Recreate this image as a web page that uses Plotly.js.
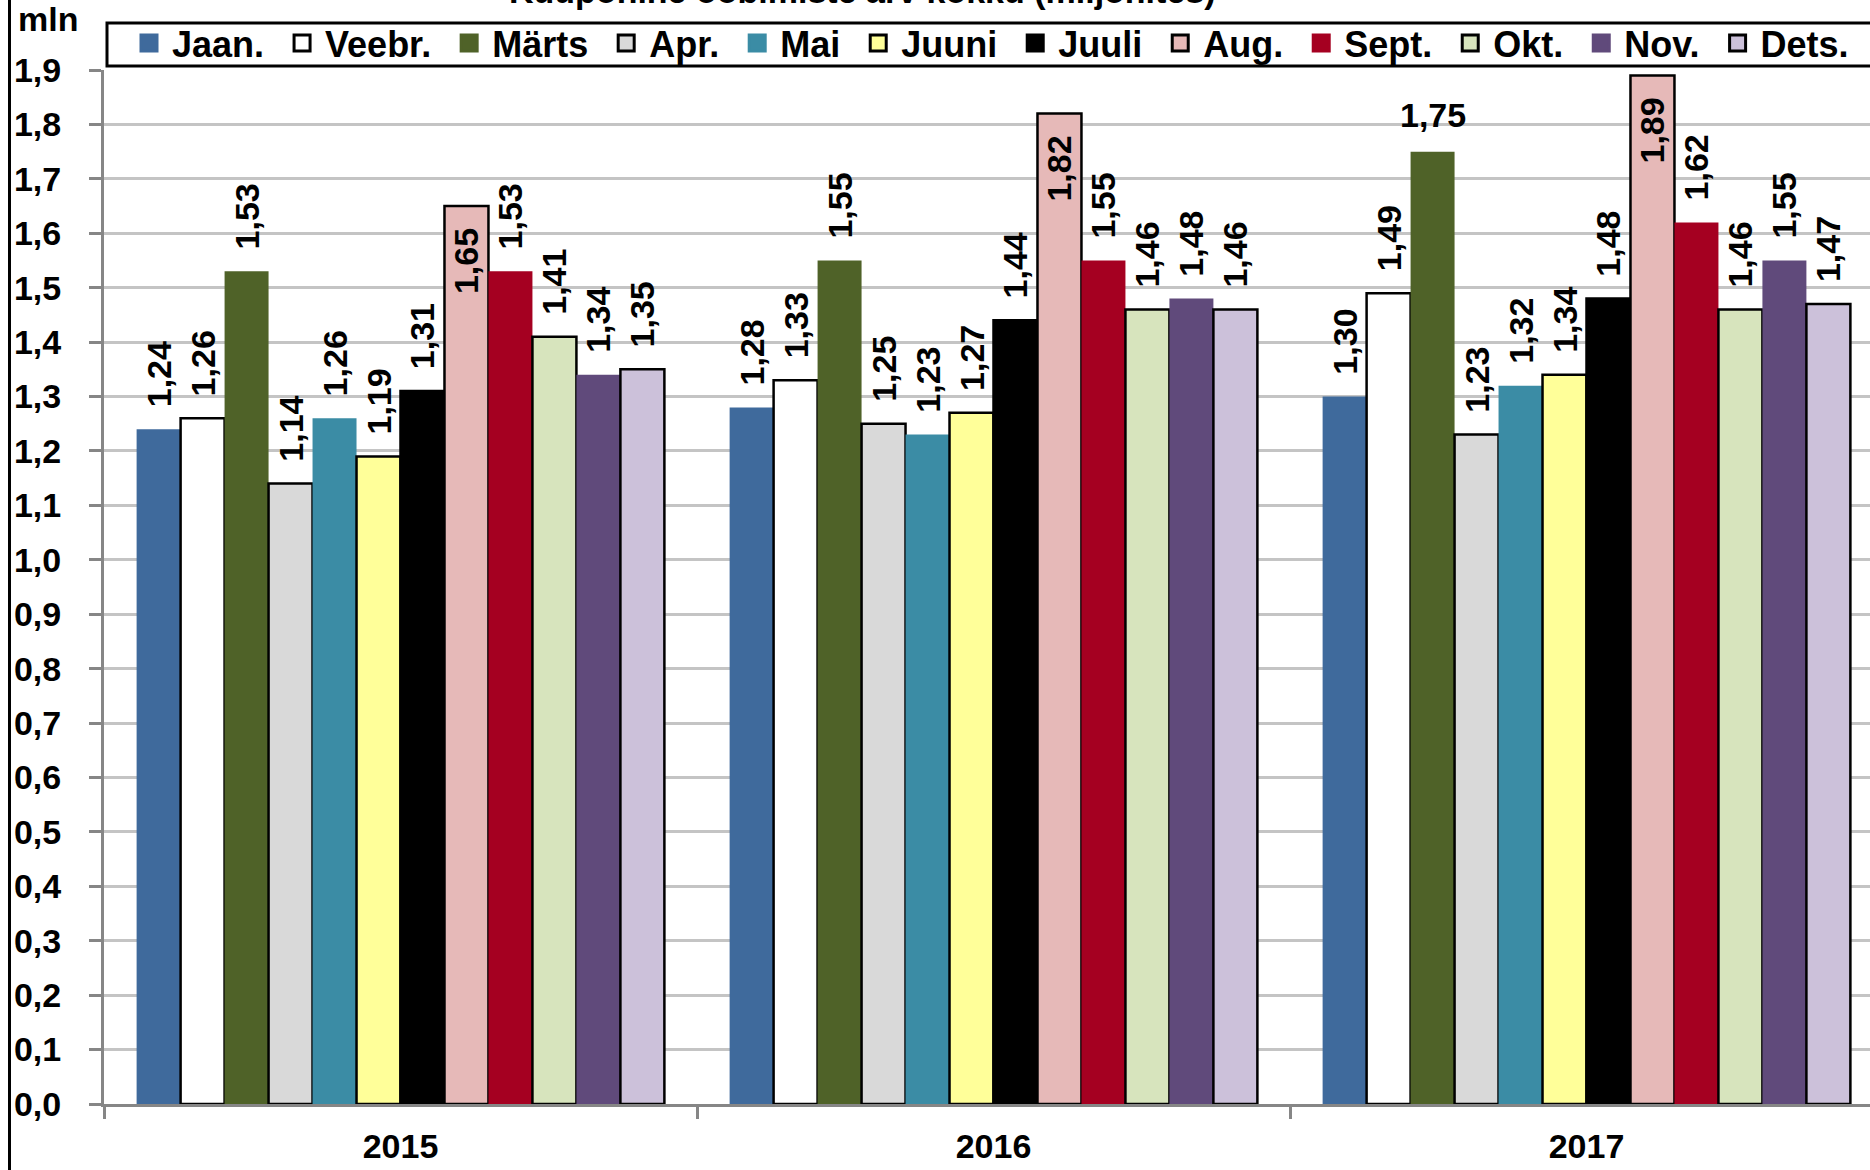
<!DOCTYPE html>
<html>
<head>
<meta charset="utf-8">
<script src="https://cdn.plot.ly/plotly-3.0.1.min.js"></script>
<style>
  body { margin: 0; background: #fff; }
  #chart { width: 1870px; height: 1170px; }
</style>
</head>
<body>
<div id="chart"></div>
<script>
// values, mln
const years = ['2015', '2016', '2017'];
const months = ['Jaan.', 'Veebr.', 'Märts', 'Apr.', 'Mai', 'Juuni', 'Juuli', 'Aug.', 'Sept.', 'Okt.', 'Nov.', 'Dets.'];
const v2015 = [1.24, 1.26, 1.53, 1.14, 1.26, 1.19, 1.31, 1.65, 1.53, 1.41, 1.34, 1.35];
const v2016 = [1.28, 1.33, 1.55, 1.25, 1.23, 1.27, 1.44, 1.82, 1.55, 1.46, 1.48, 1.46];
const v2017 = [1.30, 1.49, 1.75, 1.23, 1.32, 1.34, 1.48, 1.89, 1.62, 1.46, 1.55, 1.47];

const colors = ['#3F6A9C', '#FFFFFF', '#4F6228', '#D9D9D9', '#3B8CA5', '#FFFF99',
                '#000000', '#E6B9B8', '#A50021', '#D7E4BD', '#604A7B', '#CCC1DA'];
const outlined = [false, true, false, true, false, true, true, true, false, true, false, true];
const insideLabels = ['Aug.'];

const FONT = 'Liberation Sans, Arial, sans-serif';
const width = 1870, height = 1170;
const margin = {l: 104, r: 0, t: 70, b: 66, autoexpand: false};
const catWidth = 593;       // px per year group
const bargap = 0.11;
const plotW = width - margin.l - margin.r;
const plotH = height - margin.t - margin.b;
const barW = catWidth * (1 - bargap) / months.length;
const sp = '\u00A0\u00A0';

function px2x(px) { return (px - margin.l) / plotW; }
function px2y(py) { return 1 + (margin.t - py) / plotH; }

let data = [];
let legendItems = [];
months.forEach(function (m, i) {
  let ys = [v2015[i], v2016[i], v2017[i]];
  let inside = insideLabels.indexOf(m) >= 0;
  let tmpl = years.map(function (y) {
    if (m === 'Märts' && y === '2017') return '';   // drawn flat, see annotation
    return inside ? '%{y:.2f}' + sp : sp + '%{y:.2f}';
  });
  data.push({
    type: 'bar',
    x: years,
    y: ys,
    name: m,
    showlegend: false,
    marker: {
      color: colors[i],
      line: {color: outlined[i] ? '#000000' : colors[i], width: outlined[i] ? 2.5 : 0}
    },
    texttemplate: tmpl,
    textposition: inside ? 'inside' : 'outside',
    insidetextanchor: 'end',
    textangle: -90,
    constraintext: 'none',
    cliponaxis: false,
    textfont: {family: FONT, size: 34, color: '#000000', weight: 'bold'},
    hoverinfo: 'skip'
  });
  legendItems.push({
    type: 'scatter',
    mode: 'markers',
    x: [null],
    y: [null],
    name: m + '\u00A0',
    marker: {
      symbol: 'square',
      size: 16,
      color: colors[i],
      line: {color: outlined[i] ? '#000000' : colors[i], width: 3}
    },
    hoverinfo: 'skip'
  });
});
data = data.concat(legendItems);

let layout = {
  width: width,
  height: height,
  margin: margin,
  paper_bgcolor: '#FFFFFF',
  plot_bgcolor: '#FFFFFF',
  separators: ',.',
  font: {family: FONT, size: 34, color: '#000000', weight: 'bold'},
  barmode: 'group',
  bargap: bargap,
  bargroupgap: 0,
  showlegend: true,
  hovermode: false,
  legend: {
    orientation: 'h',
    xref: 'container',
    yref: 'container',
    x: 126 / width,
    y: 1 - 13 / height,
    xanchor: 'left',
    yanchor: 'top',
    bgcolor: 'rgba(0,0,0,0)',
    borderwidth: 0,
    itemwidth: 36,
    font: {family: FONT, size: 36, color: '#000000', weight: 'bold'}
  },
  xaxis: {
    type: 'category',
    range: [-0.5, -0.5 + plotW / catWidth],
    showline: true,
    linecolor: '#868686',
    linewidth: 3,
    ticks: 'outside',
    tickson: 'boundaries',
    ticklen: 12,
    tickwidth: 2.5,
    tickcolor: '#868686',
    ticklabelstandoff: 10,
    showgrid: false,
    zeroline: false,
    fixedrange: true,
    tickfont: {family: FONT, size: 34, color: '#000000', weight: 'bold'}
  },
  yaxis: {
    range: [0, 1.9],
    dtick: 0.1,
    tick0: 0,
    tickformat: '.1f',
    showline: true,
    linecolor: '#868686',
    linewidth: 3,
    ticks: 'outside',
    ticklen: 12,
    tickwidth: 2.5,
    tickcolor: '#868686',
    ticklabelstandoff: 21,
    showgrid: true,
    gridcolor: '#C4C4C4',
    gridwidth: 2.5,
    zeroline: false,
    fixedrange: true,
    tickfont: {family: FONT, size: 34, color: '#000000', weight: 'bold'}
  },
  annotations: [
    {
      // the one flat label
      x: 2, y: v2017[2], xref: 'x', yref: 'y',
      text: (v2017[2]).toFixed(2).replace('.', ','),
      showarrow: false, xanchor: 'center', yanchor: 'bottom',
      xshift: (2 - (months.length - 1) / 2) * barW, yshift: 16,
      font: {family: FONT, size: 34, color: '#000000', weight: 'bold'}
    },
    {
      text: 'mln', xref: 'paper', yref: 'paper',
      x: px2x(16), y: px2y(-2),
      xanchor: 'left', yanchor: 'top', showarrow: false,
      font: {family: FONT, size: 34, color: '#000000', weight: 'bold'}
    },
    {
      // title, cut by the top edge
      text: 'Kuupõhine ööbimiste arv kokku (miljonites)', xref: 'paper', yref: 'paper',
      x: px2x(862), y: px2y(12),
      xanchor: 'center', yanchor: 'bottom', showarrow: false,
      font: {family: FONT, size: 34, color: '#000000', weight: 'bold'}
    }
  ],
  shapes: [
    {
      // chart border on the left
      type: 'line', xref: 'paper', yref: 'paper',
      x0: px2x(9.5), x1: px2x(9.5),
      y0: -0.2, y1: 1.2,
      line: {color: '#000000', width: 3}
    },
    {
      // legend frame
      type: 'rect', xref: 'paper', yref: 'paper', layer: 'below',
      x0: px2x(107), x1: px2x(1900),
      y0: px2y(66), y1: px2y(23),
      fillcolor: '#FFFFFF',
      line: {color: '#000000', width: 3}
    }
  ]
};

Plotly.newPlot('chart', data, layout, {displayModeBar: false, responsive: false});
</script>
</body>
</html>
